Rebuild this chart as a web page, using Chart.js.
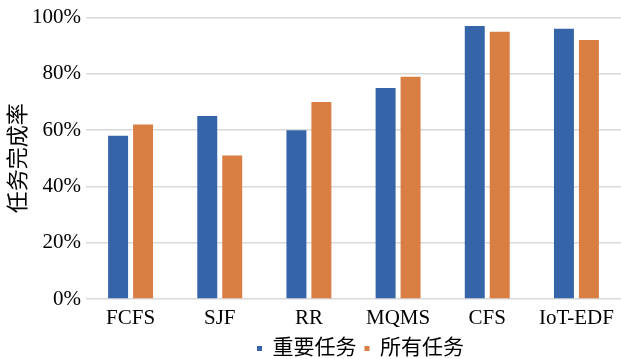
<!DOCTYPE html>
<html>
<head>
<meta charset="utf-8">
<script src="https://cdn.jsdelivr.net/npm/chart.js@4/dist/chart.umd.min.js"></script>
<style>
  html, body { margin: 0; padding: 0; background: #fff; }
  #wrap { width: 621px; height: 359px; }
</style>
</head>
<body>
<div id="wrap"><canvas id="c"></canvas></div>
<script>
const categories = ['FCFS', 'SJF', 'RR', 'MQMS', 'CFS', 'IoT-EDF'];
const criticalTasks = [58, 65, 60, 75, 97, 96];
const allTasks = [62, 51, 70, 79, 95, 92];
const yTicks = [0, 20, 40, 60, 80, 100];

const serif = "'Liberation Serif', 'Noto Sans CJK SC', serif";

// Center the legend under the plot area rather than the whole canvas.
const legendUnderPlot = {
  id: 'legendUnderPlot',
  afterLayout(chart) {
    const lg = chart.legend, area = chart.chartArea;
    if (!lg) return;
    lg.left = area.left + 14;
    lg.right = area.right;
    lg.width = lg.right - lg.left;
  }
};

new Chart(document.getElementById('c'), {
  type: 'bar',
  data: {
    labels: categories,
    datasets: [
      { label: '重要任务', data: criticalTasks, backgroundColor: '#3564a9',
        categoryPercentage: 0.56, barPercentage: 0.8 },
      { label: '所有任务', data: allTasks, backgroundColor: '#d97f44',
        categoryPercentage: 0.56, barPercentage: 0.8 }
    ]
  },
  plugins: [legendUnderPlot],
  options: {
    responsive: true,
    maintainAspectRatio: false,
    animation: false,
    layout: { padding: { top: 2, right: 0, left: 4, bottom: -10 } },
    plugins: {
      tooltip: { enabled: false },
      legend: {
        position: 'bottom',
        labels: {
          usePointStyle: true,
          pointStyle: 'rect',
          boxWidth: 5,
          boxHeight: 5,
          padding: 8,
          color: '#000',
          font: { family: serif, size: 21 }
        }
      }
    },
    scales: {
      x: {
        grid: { display: false, drawTicks: false },
        border: { display: false },
        afterFit: s => { s.height = 31; },
        ticks: { color: '#000', font: { family: serif, size: 21 }, padding: 7 }
      },
      y: {
        min: 0,
        max: 100,
        afterBuildTicks: axis => { axis.ticks = yTicks.map(v => ({ value: v })); },
        afterFit: s => { s.width = 82; },
        grid: { color: '#d9d9d9', lineWidth: 1.5, drawTicks: false },
        border: { display: false },
        ticks: {
          color: '#000',
          padding: 5,
          font: { family: serif, size: 21 },
          callback: v => v + '%'
        },
        title: {
          display: true,
          text: '任务完成率',
          color: '#000',
          padding: { top: 2, bottom: 0 },
          font: { family: serif, size: 22 }
        }
      }
    }
  }
});
</script>
</body>
</html>
